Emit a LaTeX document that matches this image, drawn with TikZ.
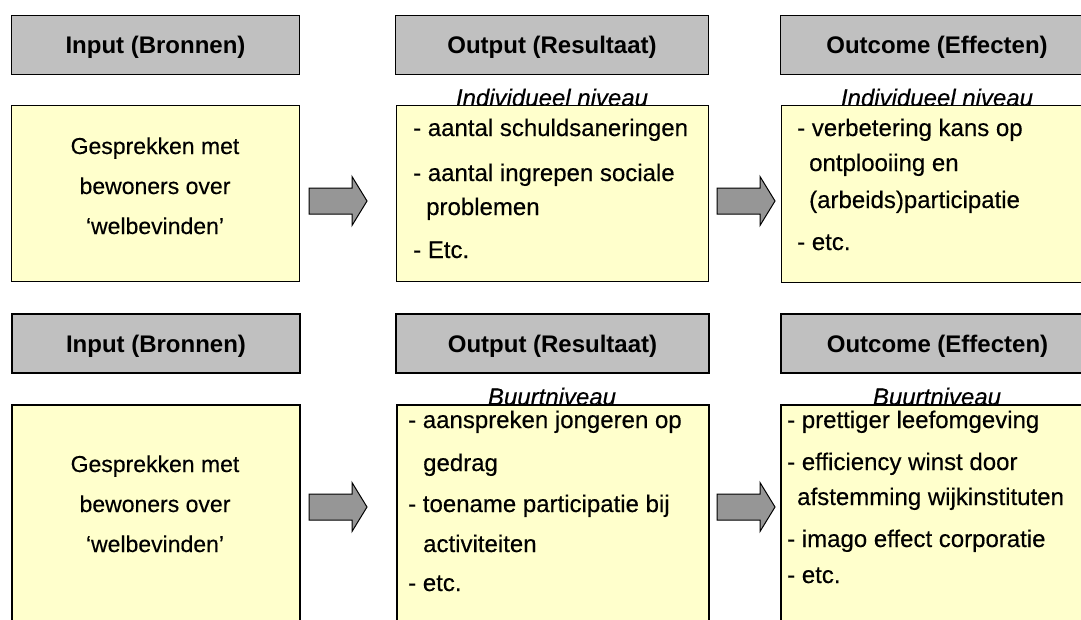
\documentclass[tikz,border=0pt]{standalone}
\usepackage{fontspec}
\setmainfont{Liberation Sans}[UprightFeatures={FakeBold=0.35},ItalicFeatures={FakeBold=0.35}]
\definecolor{hdrgray}{HTML}{C0C0C0}
\definecolor{boxyellow}{HTML}{FFFFCC}
\definecolor{arrowgray}{HTML}{969696}
\begin{document}
\begin{tikzpicture}[x=1pt,y=-1pt,
  every node/.style={font=\fontsize{24}{28}\selectfont},
  hdrbox/.style={draw=black, fill=hdrgray, anchor=north west, minimum width=#1, minimum height=59pt,
     inner sep=0pt, text height=17.2pt, text depth=0pt, font=\fontsize{24}{28}\selectfont\bfseries},
  ybox/.style={draw=black, fill=boxyellow, anchor=north west, inner sep=0pt},
  ln/.style={anchor=base west, inner sep=0pt},
  cln/.style={anchor=base, inner sep=0pt, font=\fontsize{23}{26}\selectfont},
  lvl/.style={anchor=base, inner sep=0pt, font=\fontsize{24}{28}\selectfont\itshape},
  blockarrow/.style={draw=black, fill=arrowgray, line width=1pt, line join=miter}
]
\useasboundingbox (0,0) rectangle (1081,619);
\clip (0,0) rectangle (1081,619);

% ---------- top row ----------
\node[hdrbox=288pt, line width=1pt] (h1) at (11,15) {Input (Bronnen)};
\node[hdrbox=313pt, line width=1pt] (h2) at (395,15) {Output (Resultaat)};
\node[hdrbox=313pt, line width=1pt] (h3) at (780,15) {Outcome (Effecten)};

\node[lvl] (l2) at (552,106) {Individueel niveau};
\node[lvl] (l3) at (937,106) {Individueel niveau};

\node[ybox, line width=1pt, minimum width=288pt, minimum height=176pt] (b1) at (11,105) {};
\node[ybox, line width=1pt, minimum width=312pt, minimum height=176pt] (b2) at (396,105) {};
\node[ybox, line width=1pt, minimum width=312pt, minimum height=177pt] (b3) at (781,105) {};

\node[cln] (t11) at (155,154) {Gesprekken met};
\node[cln] (t12) at (155,194) {bewoners over};
\node[cln] (t13) at (155,234) {‘welbevinden’};

\node[ln] (t21) at (413,136) {- aantal schuldsaneringen};
\node[ln] (t22) at (413,181) {- aantal ingrepen sociale};
\node[ln] (t23) at (426,215) {problemen};
\node[ln] (t24) at (413,258) {- Etc.};

\node[ln] (t31) at (797,136) {- verbetering kans op};
\node[ln] (t32) at (809,171) {ontplooiing en};
\node[ln] (t33) at (809,208) {(arbeids)participatie};
\node[ln] (t34) at (797,250) {- etc.};

\draw[blockarrow, shift={(309,201)}] (0,-13) -- (43,-13) -- (43,-24.5) -- (58,0) -- (43,24.5) -- (43,13) -- (0,13) -- cycle;
\draw[blockarrow, shift={(717,201)}] (0,-13) -- (43,-13) -- (43,-24.5) -- (58,0) -- (43,24.5) -- (43,13) -- (0,13) -- cycle;

% ---------- bottom row ----------
\node[hdrbox=288pt, line width=2pt] (g1) at (11,313) {Input (Bronnen)};
\node[hdrbox=313pt, line width=2pt] (g2) at (395,313) {Output (Resultaat)};
\node[hdrbox=313pt, line width=2pt] (g3) at (780,313) {Outcome (Effecten)};

\node[lvl] (m2) at (552,405) {Buurtniveau};
\node[lvl] (m3) at (937,405) {Buurtniveau};

\node[ybox, line width=2pt, minimum width=288pt, minimum height=300pt] (c1) at (11,404) {};
\node[ybox, line width=2pt, minimum width=312pt, minimum height=300pt] (c2) at (396,404) {};
\node[ybox, line width=2pt, minimum width=312pt, minimum height=300pt] (c3) at (780,404) {};

\node[cln] (u11) at (155,472) {Gesprekken met};
\node[cln] (u12) at (155,512) {bewoners over};
\node[cln] (u13) at (155,552) {‘welbevinden’};

\node[ln] (u21) at (408,428) {- aanspreken jongeren op};
\node[ln] (u22) at (423,471) {gedrag};
\node[ln] (u23) at (408,512) {- toename participatie bij};
\node[ln] (u24) at (423,552) {activiteiten};
\node[ln] (u25) at (408,591) {- etc.};

\node[ln] (u31) at (787,428) {- prettiger leefomgeving};
\node[ln] (u32) at (787,470) {- efficiency winst door};
\node[ln] (u33) at (797,505) {afstemming wijkinstituten};
\node[ln] (u34) at (787,547) {- imago effect corporatie};
\node[ln] (u35) at (787,583) {- etc.};

\draw[blockarrow, shift={(309,507)}] (0,-13) -- (43,-13) -- (43,-24.5) -- (58,0) -- (43,24.5) -- (43,13) -- (0,13) -- cycle;
\draw[blockarrow, shift={(717,507)}] (0,-13) -- (43,-13) -- (43,-24.5) -- (58,0) -- (43,24.5) -- (43,13) -- (0,13) -- cycle;
\end{tikzpicture}
\end{document}
